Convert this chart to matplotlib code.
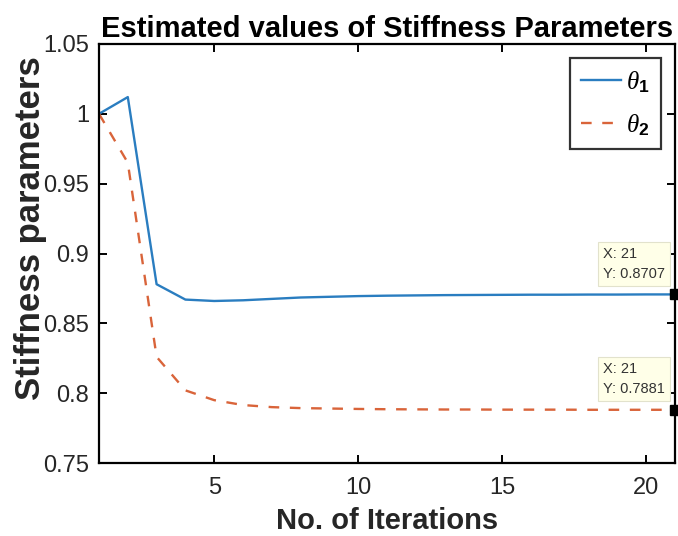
import matplotlib
matplotlib.use("Agg")
import matplotlib.pyplot as plt

iterations = list(range(1, 22))
theta1 = [1.0, 1.012, 0.878, 0.867, 0.866, 0.8665, 0.8675, 0.8685, 0.869, 0.8695,
          0.8698, 0.870, 0.8702, 0.8703, 0.8704, 0.8705, 0.8705, 0.8706, 0.8706, 0.8707, 0.8707]
theta2 = [1.0, 0.965, 0.826, 0.802, 0.795, 0.7915, 0.790, 0.7893, 0.789, 0.7887,
          0.7885, 0.7884, 0.7883, 0.7883, 0.7882, 0.7882, 0.7882, 0.7881, 0.7881, 0.7881, 0.7881]
xticks = [5, 10, 15, 20]
yticks = [0.75, 0.8, 0.85, 0.9, 0.95, 1.0, 1.05]
yticklabels = ["0.75", "0.8", "0.85", "0.9", "0.95", "1", "1.05"]

plt.rcParams['font.family'] = ['Liberation Sans', 'DejaVu Sans']
plt.rcParams['mathtext.fontset'] = 'custom'
plt.rcParams['mathtext.rm'] = 'Liberation Sans'
plt.rcParams['mathtext.it'] = 'Liberation Serif:italic'
plt.rcParams['mathtext.bf'] = 'Liberation Sans:bold'

fig = plt.figure(figsize=(6.78, 5.36), dpi=100)
ax = fig.add_axes([99/678, 1-463/536, 576/678, (463-44)/536])

blue = '#2A7DC0'
orange = '#D9643A'
ax.plot(iterations, theta1, color=blue, lw=1.7, label=r'$\theta_\mathbf{1}$')
ax.plot(iterations, theta2, color=orange, lw=1.7, ls=(0, (4.5, 4.5)), label=r'$\theta_\mathbf{2}$')

ax.set_xlim(1, 21)
ax.set_ylim(0.75, 1.05)
ax.set_xticks(xticks)
ax.set_yticks(yticks)
ax.set_yticklabels(yticklabels)
ax.tick_params(direction='in', labelsize=17, length=6, width=1.4, top=True, right=True,
               labelcolor='#262626')
ax.tick_params(axis='x', pad=10)
ax.tick_params(axis='y', pad=7)
for s in ax.spines.values():
    s.set_linewidth(1.6)

ax.set_title('Estimated values of Stiffness Parameters', fontsize=21, fontweight='bold', pad=5)
ax.set_xlabel('No. of Iterations', fontsize=21, fontweight='bold', labelpad=6, color='#262626')
ax.set_ylabel('Stiffness parameters', fontsize=25, fontweight='bold', labelpad=-3, color='#262626')
ax.yaxis.label.set_y(0.56)

leg = ax.legend(loc='upper right', bbox_to_anchor=(0.976, 0.967), borderaxespad=0, fontsize=18,
                frameon=True, fancybox=False, edgecolor='black', handlelength=1.6,
                handletextpad=0.2, borderpad=0.45, labelspacing=0.7)
leg.get_frame().set_linewidth(1.6)

for series in (theta1, theta2):
    xv, yv = iterations[-1], series[-1]
    ax.plot([xv], [yv], marker='s', color='black', ms=7, clip_on=False, zorder=5)
    ax.annotate(f'X: {xv}\nY: {yv:.4f}', xy=(xv, yv), xytext=(-52, 10), textcoords='offset points',
                fontsize=10.5, ha='left', va='bottom', color='#333333', linespacing=1.5,
                bbox=dict(boxstyle='square,pad=0.35', fc='#FFFFE8', ec='#E2E2CC', lw=0.8),
                zorder=6)

fig.savefig('out.png', dpi=100)
